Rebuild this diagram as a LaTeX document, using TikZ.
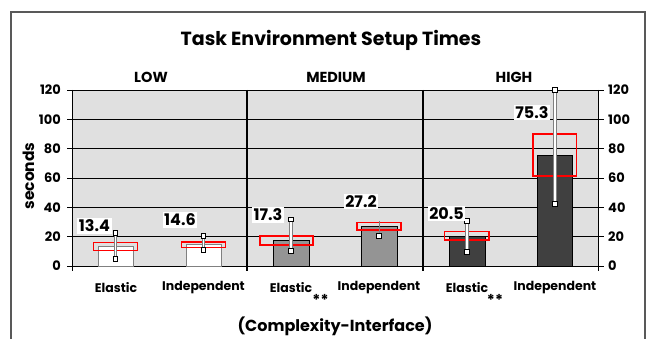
\documentclass[tikz,border=0pt]{standalone}
\usepackage{fontspec}
\setmainfont{Poppins}
\begin{document}
\begin{tikzpicture}[x=1pt,y=-1pt,
  axislabel/.style={font=\fontsize{13}{14}\selectfont\bfseries, inner sep=0pt},
  catlabel/.style={font=\fontsize{12.5}{14}\selectfont\bfseries, inner sep=0pt},
  grouplabel/.style={font=\fontsize{14.5}{16}\selectfont\bfseries, inner sep=0pt},
  vallabel/.style={font=\fontsize{16}{17}\selectfont\bfseries, fill=white, inner sep=1.5pt},
  gridline/.style={draw=black, line width=0.8pt},
  sepline/.style={draw=black, line width=1.8pt},
  barlow/.style={fill=white, draw=gray, line width=0.8pt},
  barmed/.style={fill=black!42, draw=black, line width=0.8pt},
  barhigh/.style={fill=black!75, draw=black, line width=0.8pt},
  cibox/.style={draw=red, line width=1.5pt},
  errbarout/.style={draw=gray, line width=3.2pt},
  errbarin/.style={draw=white, line width=1.6pt},
  errcap/.style={fill=white, draw=black, line width=0.6pt, minimum size=4.5pt, inner sep=0pt}
]
% canvas and frame
\useasboundingbox (0,0) rectangle (652,339);
\fill[white] (0,0) rectangle (652,339);
\draw[draw=black!65, line width=1.2pt] (11,339) -- (11,12) -- (645,12) -- (645,339);

% y value -> vertical position
\def\yv#1{266-1.4667*#1}

% plot area
\fill[black!12] (72,90) rectangle (598,266);
\foreach \v in {20,40,...,120} {
  \draw[gridline] (72,{\yv{\v}}) -- (598,{\yv{\v}});
  \draw[gridline] (67,{\yv{\v}}) -- (72,{\yv{\v}});
  \draw[gridline] (598,{\yv{\v}}) -- (604,{\yv{\v}});
}
\draw[gridline] (67,266) -- (604,266);
\draw[gridline] (72,90) -- (72,271);
\draw[gridline] (598,90) -- (598,271);
\draw[sepline] (247,90) -- (247,271);
\draw[sepline] (423,90) -- (423,271);

% axis numbers
\foreach \v in {0,20,...,120} {
  \node[axislabel, anchor=east] (yl\v) at (61,{\yv{\v}}) {\v};
  \node[axislabel, anchor=west] (yr\v) at (608,{\yv{\v}}) {\v};
}
\node[axislabel, font=\fontsize{15.5}{17}\selectfont\bfseries, rotate=90] (ytitle) at (28.5,176) {seconds};

% bars
\draw[barlow]  (98,266) rectangle (133,{\yv{13.4}});
\draw[barlow]  (186,266) rectangle (221,{\yv{14.6}});
\draw[barmed]  (273,266) rectangle (309,{\yv{17.3}});
\draw[barmed]  (361,266) rectangle (397,{\yv{27.2}});
\draw[barhigh] (449,266) rectangle (485,{\yv{20.5}});
\draw[barhigh] (537,266) rectangle (572,{\yv{75.3}});

% confidence boxes
\draw[cibox] (93.5,242.7) rectangle (137.5,250.3);
\draw[cibox] (181.5,242) rectangle (225.5,247.6);
\draw[cibox] (260,236) rectangle (313,245);
\draw[cibox] (357,222.3) rectangle (401,230);
\draw[cibox] (444.5,231.3) rectangle (489,240);
\draw[cibox] (533,134) rectangle (576.5,176);

% error bars
\foreach \x/\lo/\hi [count=\i] in {115.3/5/22.7, 203.5/10.9/20.5, 291/10.2/32, 467/9.8/30.7, 555/42.5/120} {
  \coordinate (elo\i) at (\x,{\yv{\lo}});
  \coordinate (ehi\i) at (\x,{\yv{\hi}});
  \draw[errbarout] (elo\i) -- (ehi\i);
  \draw[errbarin] (elo\i) -- (ehi\i);
  \node[errcap] (clo\i) at (elo\i) {};
  \node[errcap] (chi\i) at (ehi\i) {};
}
\coordinate (elo6) at (379,{\yv{20.5}});
\coordinate (ehi6) at (379,{\yv{30.8}});
\draw[draw=gray, line width=0.8pt] (elo6) -- (ehi6);
\node[errcap] (clo6) at (elo6) {};

% value labels
\node[vallabel] (v1) at (94.5,226) {13.4};
\node[vallabel] (v2) at (180,220) {14.6};
\node[vallabel] (v3) at (268,215) {17.3};
\node[vallabel] (v4) at (361,201.5) {27.2};
\node[vallabel] (v5) at (446.5,213.5) {20.5};
\node[vallabel] (v6) at (532,112.5) {75.3};

% titles
\node[font=\fontsize{19}{22}\selectfont\bfseries, inner sep=0pt] (title) at (331,40) {Task Environment Setup Times};
\node[grouplabel] (glow) at (151,77) {LOW};
\node[grouplabel] (gmed) at (336,77) {MEDIUM};
\node[grouplabel] (ghigh) at (514,77) {HIGH};

% category labels
\node[catlabel] (c1) at (116,288) {Elastic};
\node[catlabel] (c2) at (203.5,288) {Independent};
\node[catlabel] (c3) at (291,288) {Elastic};
\node[catlabel] (c4) at (379,288) {Independent};
\node[catlabel] (c5) at (467,288) {Elastic};
\node[catlabel] (c6) at (555,288) {Independent};
\node[catlabel, font=\fontsize{15}{16}\selectfont\bfseries] (s1) at (320.5,300) {**};
\node[catlabel, font=\fontsize{15}{16}\selectfont\bfseries] (s2) at (495,300) {**};
\node[font=\fontsize{16}{18}\selectfont\bfseries, inner sep=0pt] (xtitle) at (335,326) {(Complexity-Interface)};
\end{tikzpicture}
\end{document}
